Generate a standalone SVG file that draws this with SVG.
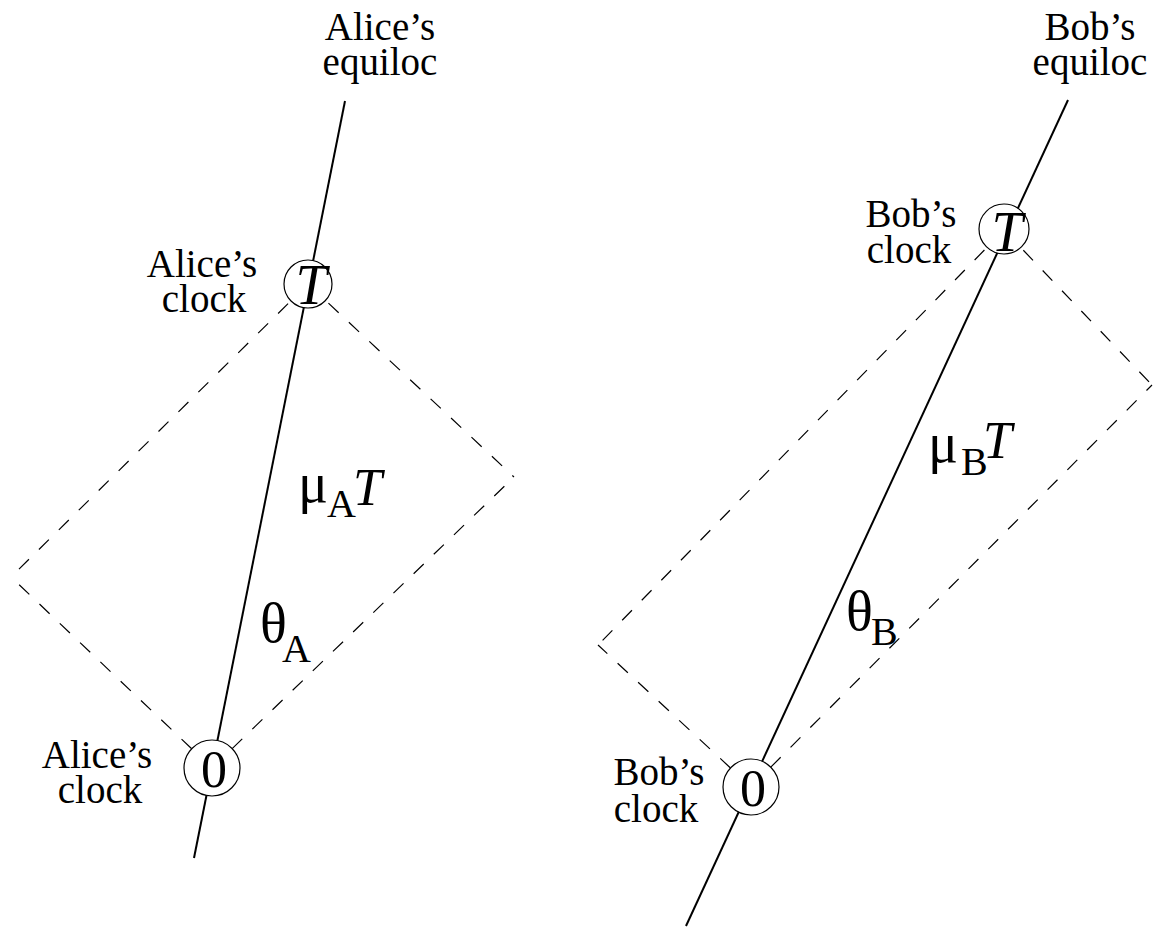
<svg xmlns="http://www.w3.org/2000/svg" width="1156" height="936" viewBox="0 0 1156 936">
<style>
.bg{fill:#fff}
.wl{stroke:#000;stroke-width:2;fill:none;stroke-linecap:butt}
.dash{stroke:#000;stroke-width:1.2;fill:none;stroke-dasharray:14 14}
.clk{fill:#fff;stroke:#000;stroke-width:1.2}
.lbl{font-family:"Liberation Serif","Times New Roman",serif;font-size:39px;fill:#000;text-anchor:middle}
.num{font-family:"Liberation Serif","Times New Roman",serif;font-size:52px;fill:#000;text-anchor:middle}
.it{font-family:"Liberation Serif","Times New Roman",serif;font-size:56px;font-style:italic;fill:#000;text-anchor:middle}
.gr{font-family:"Liberation Serif","Times New Roman",serif;font-size:56px;fill:#000}
.sub{font-family:"Liberation Serif","Times New Roman",serif;font-size:40px;fill:#000}
.itl{font-family:"Liberation Serif","Times New Roman",serif;font-size:52px;font-style:italic;fill:#000}
</style>
<rect class="bg" x="0" y="0" width="1156" height="936"/>
<g id="connectors">
  <line class="wl" x1="345" y1="101" x2="194" y2="858"/>
  <line class="dash" x1="308" y1="284" x2="11" y2="577"/>
  <line class="dash" x1="308" y1="284" x2="514" y2="477"/>
  <line class="dash" x1="212" y1="768" x2="11" y2="577"/>
  <line class="dash" x1="212" y1="768" x2="514" y2="477"/>
  <line class="wl" x1="1068" y1="100" x2="686" y2="926"/>
  <line class="dash" x1="1004" y1="230" x2="598" y2="645"/>
  <line class="dash" x1="1004" y1="230" x2="1152" y2="385"/>
  <line class="dash" x1="751" y1="787" x2="598" y2="645"/>
  <line class="dash" x1="751" y1="787" x2="1152" y2="385"/>
</g>
<g id="alice-equiloc-label">
  <text class="lbl" x="380" y="40">Alice’s</text>
  <text class="lbl" x="380" y="75">equiloc</text>
</g>
<g id="alice-clock-T">
  <circle class="clk" cx="308" cy="284" r="24"/>
  <text class="it" x="311" y="304">T</text>
  <text class="lbl" x="202" y="277">Alice’s</text>
  <text class="lbl" x="204" y="312">clock</text>
</g>
<g id="alice-clock-0">
  <circle class="clk" cx="212" cy="768" r="28"/>
  <text class="num" x="214" y="787">0</text>
  <text class="lbl" x="97" y="768">Alice’s</text>
  <text class="lbl" x="100" y="803">clock</text>
</g>
<g id="alice-muT">
  <text class="gr" x="298" y="502">μ</text>
  <text class="sub" x="327" y="517">A</text>
  <text class="itl" x="353" y="505">T</text>
</g>
<g id="alice-theta">
  <text class="gr" x="260" y="642">θ</text>
  <text class="sub" x="282" y="662">A</text>
</g>
<g id="bob-equiloc-label">
  <text class="lbl" x="1090" y="40">Bob’s</text>
  <text class="lbl" x="1090" y="75">equiloc</text>
</g>
<g id="bob-clock-T">
  <circle class="clk" cx="1004" cy="229" r="25"/>
  <text class="it" x="1007" y="251">T</text>
  <text class="lbl" x="911" y="227">Bob’s</text>
  <text class="lbl" x="909" y="263">clock</text>
</g>
<g id="bob-clock-0">
  <circle class="clk" cx="751" cy="787" r="28"/>
  <text class="num" x="753" y="806">0</text>
  <text class="lbl" x="659" y="785">Bob’s</text>
  <text class="lbl" x="656" y="822">clock</text>
</g>
<g id="bob-muT">
  <text class="gr" x="928" y="462">μ</text>
  <text class="sub" x="961" y="475">B</text>
  <text class="itl" x="983" y="458">T</text>
</g>
<g id="bob-theta">
  <text class="gr" x="846" y="630">θ</text>
  <text class="sub" x="871" y="645">B</text>
</g>
</svg>
